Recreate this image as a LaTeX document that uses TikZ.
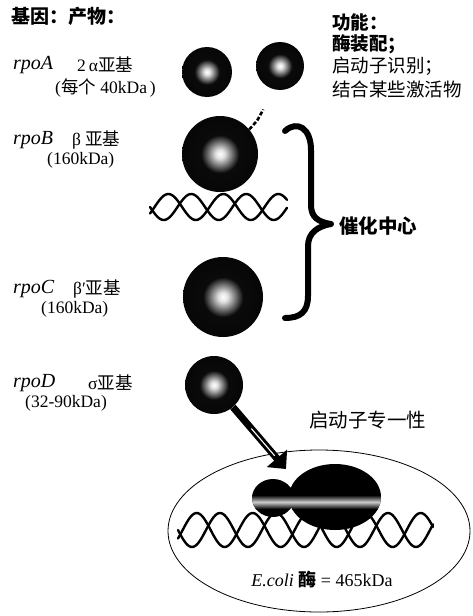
\documentclass[tikz,border=0pt]{standalone}
\usepackage{fontspec}
\setmainfont{Liberation Serif}
\newfontfamily\cjk{Noto Sans CJK SC}
\usetikzlibrary{arrows.meta,calc}

% dark sphere with a small bright glowing core
\pgfdeclareradialshading{spherecore}{\pgfpoint{0bp}{0bp}}{%
  color(0bp)=(white); color(3bp)=(white!88!black); color(7.5bp)=(black!52);
  color(12.5bp)=(black!96); color(50bp)=(black)}

\newcommand\zh[1]{{\cjk #1}}

\begin{document}
\begin{tikzpicture}[x=1pt,y=-1pt,
  lbl/.style={anchor=west, inner sep=0pt, font=\fontsize{17.5}{20}\selectfont},
  gene/.style={anchor=west, inner sep=0pt, font=\fontsize{20}{22}\selectfont\itshape},
  head/.style={anchor=west, inner sep=0pt, font=\fontsize{18.5}{22}\selectfont\cjk\bfseries},
  note/.style={anchor=west, inner sep=0pt, font=\fontsize{18.5}{22}\selectfont\cjk},
  sphere/.style={circle, inner sep=0pt, minimum size=#1, shade, shading=spherecore},
  dna/.style={line width=2.4pt, line cap=round},
  brace/.style={line width=6pt, line cap=round, line join=round}]
\useasboundingbox (0,0) rectangle (472,616);

% ---- headings ----
\node[head, font=\fontsize{19}{20}\selectfont\cjk\bfseries] (hdr) at (11,16) {基因：产物：};
\node[head] (f1) at (332,22) {功能：};
\node[head] (f2) at (332,44) {酶装配；};
\node[note] (f3) at (332,66) {启动子识别；};
\node[note] (f4) at (332,89) {结合某些激活物};

% ---- gene / product labels ----
\node[gene] (ga) at (13,65) {rpoA};
\node[lbl] (pa) at (77,65) {2\,α\zh{亚基}};
\node[lbl] (ma) at (55,88) {(\zh{每个} 40kDa\,)};

\node[gene] (gb) at (13,140) {rpoB};
\node[lbl] (pb) at (72,140) {β \zh{亚基}};
\node[lbl] (mb) at (47,160) {(160kDa)};

\node[gene] (gc) at (13,289) {rpoC};
\node[lbl] (pc) at (73,289) {β′\zh{亚基}};
\node[lbl] (mc) at (41,309) {(160kDa)};

\node[gene] (gd) at (13,383) {rpoD};
\node[lbl] (pd) at (88,383) {σ\zh{亚基}};
\node[lbl] (md) at (25,403) {(32-90kDa)};

% ---- subunits ----
\node[sphere=50pt] (alpha1) at (207,72) {};
\node[sphere=48pt] (alpha2) at (280,66) {};

% DNA under beta
\draw[dna] plot[domain=150:287, samples=90, smooth] (\x, {207 + 13*sin((\x-150)*6.5455)});
\draw[dna] plot[domain=150:287, samples=90, smooth] (\x, {207 + 13*sin((\x-150)*6.5455 + 150)});
\node[sphere=76pt] (beta) at (220,154) {};
\draw[line width=2.6pt, dash pattern=on 4pt off 2pt] (beta.40) -- ++(8,-9) -- ++(6,-11);

\node[sphere=80pt] (betap) at (223,297) {};
\node[sphere=58pt] (sigma) at (214,385) {};

% bracket grouping beta and beta'
\draw[brace] (285,131) .. controls (297,120) and (311,128) .. (311,150)
  -- (311,205) .. controls (311,217) and (318,222) .. (331,224)
  .. controls (318,226) and (308,233) .. (308,246)
  -- (308,296) .. controls (308,312) and (300,318) .. (285,318);
\node[head, font=\fontsize{19.5}{22}\selectfont\cjk\bfseries] (cat) at (339,226) {催化中心};

\node[note, font=\fontsize{19.5}{22}\selectfont\cjk] (spec) at (309,420) {启动子专一性};

% ---- holoenzyme ----
\draw[line width=0.8pt] (319,531) ellipse [x radius=151, y radius=81];
\draw[dna] plot[domain=178:433, samples=160, smooth] (\x, {530 + 17*sin((\x-178)*6.4286)});
\draw[dna] plot[domain=178:433, samples=160, smooth] (\x, {530 + 17*sin((\x-178)*6.4286 + 150)});
\begin{scope}
  \clip (273,498) ellipse [x radius=21, y radius=19] (335,497) ellipse [x radius=46, y radius=33];
  \fill[black] (250,460) rectangle (385,535);
  \shade[top color=black, bottom color=black, middle color=white!80!black] (250,495) rectangle (385,509);
\end{scope}
\coordinate (enz) at (286,469);

\node[anchor=center, inner sep=0pt, font=\fontsize{18}{20}\selectfont] (mass) at (322,580)
  {\textit{E.coli} \zh{\bfseries 酶} = 465kDa};

% sigma joins the core enzyme
\draw[line width=7pt, -{Triangle[width=26pt,length=14pt]}] (sigma) -- (enz);
\draw[white, line width=1.1pt, line cap=round] ($(sigma)!0.52!(enz)$) -- ($(sigma)!0.84!(enz)$);
\end{tikzpicture}
\end{document}
